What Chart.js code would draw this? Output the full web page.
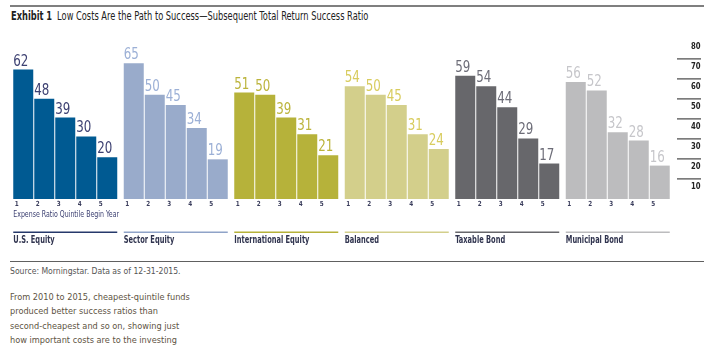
<!DOCTYPE html>
<html>
<head>
<meta charset="utf-8">
<script src="https://cdn.jsdelivr.net/npm/chart.js@4.4.1/dist/chart.umd.min.js"></script>
<style>
  body { margin: 0; background: #fff; width: 705px; height: 354px; position: relative; overflow: hidden;
         font-family: "DejaVu Sans Condensed", "DejaVu Sans", sans-serif; }
  .rule { position: absolute; left: 10px; width: 694px; }
  .squeeze { position: absolute; white-space: nowrap; transform-origin: 0 0; }
  #topRule { top: 5px; height: 2px; background: #7f7f7f; }
  #srcRule { top: 261px; height: 1px; background: #606060; }
  #title { left: 11px; top: 9px; font-size: 11.5px; line-height: 14px; color: #222; transform: scaleX(0.8); }
  #title b { margin-right: 3px; }
  #source { left: 10px; top: 264px; font-size: 9.5px; line-height: 13px; color: #555; transform: scaleX(0.9); }
  #note { left: 10px; top: 290px; font-size: 9.5px; line-height: 14.3px; color: #5e5443; transform: scaleX(0.96); }
  #wrap { position: absolute; left: 0; top: 20px; width: 705px; height: 240px; }
</style>
</head>
<body>
<div id="topRule" class="rule"></div>
<div id="title" class="squeeze"><b>Exhibit 1</b> Low Costs Are the Path to Success—Subsequent Total Return Success Ratio</div>
<div id="wrap"><canvas id="chart" width="705" height="240"></canvas></div>
<div id="srcRule" class="rule"></div>
<div id="source" class="squeeze">Source: Morningstar. Data as of 12-31-2015.</div>
<div id="note" class="squeeze">From 2010 to 2015, cheapest-quintile funds<br>produced better success ratios than<br>second-cheapest and so on, showing just<br>how important costs are to the investing</div>
<script>
// asset classes and the success ratio of each expense ratio quintile
const categories = ["U.S. Equity", "Sector Equity", "International Equity", "Balanced", "Taxable Bond", "Municipal Bond"];
const quintiles = ["1", "2", "3", "4", "5"];
const q1 = [62, 65, 51, 54, 59, 56];
const q2 = [48, 50, 50, 50, 54, 52];
const q3 = [39, 45, 39, 45, 44, 32];
const q4 = [30, 34, 31, 31, 29, 28];
const q5 = [20, 19, 21, 24, 17, 16];
const yTickLabels = [10, 20, 30, 40, 50, 60, 70, 80];

const barColors = ["#005a92", "#99abcb", "#b6b23a", "#d3cf8b", "#67676b", "#bcbcbe"];
const valueColors = ["#3d4172", "#9cb0d6", "#bcb43c", "#d8cc5e", "#6d6d78", "#c6c6ca"];
const lineColors = ["#26396b", "#8fa3c8", "#b6b23a", "#d3cf8b", "#67676b", "#bcbcbe"];
const FONT = '"DejaVu Sans Condensed", "DejaVu Sans", sans-serif';

// the source uses a narrow face, so squeeze the text horizontally
function narrowText(ctx, text, x, y, sx) {
    ctx.save();
    ctx.translate(x, y);
    ctx.scale(sx, 1);
    ctx.fillText(text, 0, 0);
    ctx.restore();
}

const labelsPlugin = {
    id: "groupLabels",
    afterDatasetsDraw(chart) {
        const ctx = chart.ctx;
        const y2 = chart.scales.y2;
        ctx.save();
        ctx.textAlign = "left";
        // value labels + quintile numbers
        chart.data.datasets.forEach((ds, i) => {
            const meta = chart.getDatasetMeta(i);
            meta.data.forEach((bar, j) => {
                const left = bar.x - bar.width / 2;
                ctx.fillStyle = valueColors[j];
                ctx.font = "16.5px " + FONT;
                ctx.textBaseline = "alphabetic";
                narrowText(ctx, ds.data[j], left, bar.y - 4, 0.8);
                ctx.fillStyle = "#3a3d5c";
                ctx.font = "bold 7px " + FONT;
                ctx.textBaseline = "middle";
                narrowText(ctx, quintiles[i], left + 1.5, 184.5, 0.9);
            });
        });
        // group rules and names
        const first = chart.getDatasetMeta(0).data;
        const last = chart.getDatasetMeta(4).data;
        categories.forEach((name, j) => {
            const l = first[j].x - first[j].width / 2;
            const r = last[j].x + last[j].width / 2;
            ctx.fillStyle = lineColors[j];
            ctx.fillRect(l, 211.5, r - l, 1.5);
            ctx.fillStyle = "#30344f";
            ctx.font = "bold 10px " + FONT;
            ctx.textBaseline = "middle";
            narrowText(ctx, name, l, 220.5, 0.74);
        });
        ctx.fillStyle = "#3d4172";
        ctx.font = "8.8px " + FONT;
        ctx.textBaseline = "middle";
        narrowText(ctx, "Expense Ratio Quintile Begin Year", first[0].x - first[0].width / 2, 194.5, 0.79);
        // right-hand axis: labels with short rules between them
        ctx.fillStyle = "#222";
        ctx.font = "bold 9px " + FONT;
        yTickLabels.forEach(v => {
            narrowText(ctx, String(v), 691, y2.getPixelForValue(v), 0.85);
        });
        ctx.fillStyle = "#7c7c7c";
        yTickLabels.slice(0, -1).forEach(v => {
            const py = y2.getPixelForValue(v + 4);
            ctx.fillRect(677, py - 1, 24, 1.7);
        });
        ctx.restore();
    }
};

const sets = [q1, q2, q3, q4, q5];

new Chart(document.getElementById("chart"), {
    type: "bar",
    data: {
        labels: categories,
        datasets: sets.map((vals, i) => ({
            label: quintiles[i],
            data: vals,
            backgroundColor: barColors,
            borderWidth: 0,
            categoryPercentage: 105 / 110.5,
            barPercentage: 20 / 21,
            yAxisID: "y"
        }))
    },
    options: {
        responsive: false,
        animation: false,
        devicePixelRatio: 1,
        layout: { padding: { left: 10, right: 32, top: 12, bottom: 61 } },
        plugins: { legend: { display: false }, tooltip: { enabled: false } },
        scales: {
            x: { display: false },
            y: { display: false, min: 0, max: 80 },
            y2: { display: false, position: "right", min: 4, max: 87.5 }
        }
    },
    plugins: [labelsPlugin]
});
</script>
</body>
</html>
